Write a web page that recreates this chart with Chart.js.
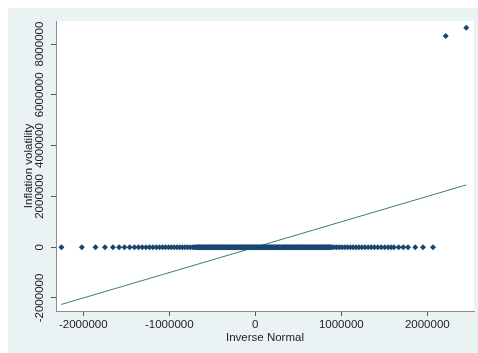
<!DOCTYPE html>
<html>
<head>
<meta charset="utf-8">
<script src="https://cdn.jsdelivr.net/npm/chart.js@4/dist/chart.umd.min.js"></script>
<style>
  body { margin: 0; background: #fff; }
  canvas { display: block; }
</style>
</head>
<body>
<canvas id="qnorm" width="478" height="353"></canvas>
<script>
// inverse normal quantiles (x) of the observations whose volatility is 0
var flatX = [
	-2254000, -2017000, -1858000, -1748000, -1655000, -1583000, -1521000, -1460000,
	-1405000, -1358000, -1314000, -1271000, -1230000, -1190000, -1151000, -1114000,
	-1078000, -1043000, -1009000, -976000, -943000, -910000, -879000, -848000,
	-817000, -787000, -757000, -728000, -705000,
	-690000, -680000, -670000, -660000, -650000, -640000, -630000, -620000, -610000, -600000,
	-590000, -580000, -570000, -560000, -550000, -540000, -530000, -520000, -510000, -500000,
	-490000, -480000, -470000, -460000, -450000, -440000, -430000, -420000, -410000, -400000,
	-390000, -380000, -370000, -360000, -350000, -340000, -330000, -320000, -310000, -300000,
	-290000, -280000, -270000, -260000, -250000, -240000, -230000, -220000, -210000, -200000,
	-190000, -180000, -170000, -160000, -150000, -140000, -130000, -120000, -110000, -100000,
	-90000, -80000, -70000, -60000, -50000, -40000, -30000, -20000, -10000, 0,
	10000, 20000, 30000, 40000, 50000, 60000, 70000, 80000, 90000, 100000,
	110000, 120000, 130000, 140000, 150000, 160000, 170000, 180000, 190000, 200000,
	210000, 220000, 230000, 240000, 250000, 260000, 270000, 280000, 290000, 300000,
	310000, 320000, 330000, 340000, 350000, 360000, 370000, 380000, 390000, 400000,
	410000, 420000, 430000, 440000, 450000, 460000, 470000, 480000, 490000, 500000,
	510000, 520000, 530000, 540000, 550000, 560000, 570000, 580000, 590000, 600000,
	610000, 620000, 630000, 640000, 650000, 660000, 670000, 680000, 690000, 700000,
	710000, 720000, 730000, 740000, 750000, 760000, 770000, 780000, 790000, 800000,
	810000, 820000, 830000, 840000, 850000, 860000, 870000, 880000, 895000,
	921000, 950000, 980000, 1010000, 1041000, 1073000, 1106000, 1138000, 1172000,
	1206000, 1241000, 1276000, 1312000, 1349000, 1386000, 1424000, 1464000, 1505000,
	1545000, 1581000, 1613000, 1667000, 1721000, 1776000, 1860000, 1950000, 2066000
];
var flatY = 0;
// the two largest observations
var topX = [2214000, 2453000];
var topY = [8320000, 8640000];

// reference line y = x
var refX = [-2254000, 2453000];
var refY = [-2254000, 2453000];

var xTicks = [-2000000, -1000000, 0, 1000000, 2000000];
var yTicks = [-2000000, 0, 2000000, 4000000, 6000000, 8000000];

var $points = [];
for (var i = 0; i < flatX.length; i++) {
	$points.push({x: flatX[i], y: flatY});
}
for (var k = 0; k < topX.length; k++) {
	$points.push({x: topX[k], y: topY[k]});
}
var $line = [];
for (var j = 0; j < refX.length; j++) {
	$line.push({x: refX[j], y: refY[j]});
}

var $font = '"Liberation Sans", Arial, sans-serif';

var bgPlugin = {
	id: 'bg',
	beforeDraw: function(chart) {
		var ctx = chart.ctx, a = chart.chartArea;
		ctx.save();
		ctx.fillStyle = '#ffffff';
		ctx.fillRect(0, 0, chart.width, chart.height);
		ctx.fillStyle = '#EAF2F3';
		ctx.fillRect(8, 8, chart.width - 8, chart.height - 8);
		ctx.fillStyle = '#ffffff';
		ctx.fillRect(a.left, a.top, a.right - a.left, a.bottom - a.top);
		ctx.restore();
	},
	afterDraw: function(chart) {
		// rotated y tick labels, as Stata draws them
		var ctx = chart.ctx, s = chart.scales.y;
		ctx.save();
		ctx.fillStyle = '#222';
		ctx.font = '11.5px ' + $font;
		ctx.textAlign = 'center';
		ctx.textBaseline = 'middle';
		s.ticks.forEach(function(t) {
			var y = s.getPixelForValue(t.value);
			ctx.save();
			ctx.translate(40, y);
			ctx.rotate(-Math.PI / 2);
			ctx.fillText(String(t.value), 0, 0);
			ctx.restore();
		});
		ctx.restore();
	}
};

new Chart(document.getElementById('qnorm'), {
	type: 'scatter',
	data: {
		datasets: [{
			data: $points,
			pointStyle: 'rectRot',
			pointRadius: 3,
			borderWidth: 0,
			backgroundColor: '#1A476F',
			borderColor: '#1A476F'
		}, {
			type: 'line',
			data: $line,
			borderColor: '#3C7D6E',
			borderWidth: 1,
			pointRadius: 0,
			fill: false
		}]
	},
	options: {
		responsive: false,
		animation: false,
		devicePixelRatio: 1,
		layout: { padding: { top: 21, right: 3, left: 0, bottom: 0 } },
		plugins: { legend: { display: false }, tooltip: { enabled: false } },
		scales: {
			x: {
				type: 'linear',
				min: -2317000,
				max: 2543000,
				afterBuildTicks: function(s) { s.ticks = xTicks.map(function(v) { return {value: v}; }); },
				afterFit: function(s) { s.height = 42; },
				grid: { drawOnChartArea: false, tickLength: 5, color: '#555' },
				border: { color: '#8C8C8C', width: 1 },
				ticks: {
					color: '#222',
					padding: 2,
					maxRotation: 0,
					font: { family: $font, size: 11.5 },
					callback: function(v) { return String(v); }
				},
				title: {
					display: true,
					text: 'Inverse Normal',
					color: '#222',
					font: { family: $font, size: 11.5 },
					padding: { top: 0, bottom: 8 }
				}
			},
			y: {
				type: 'linear',
				min: -2513000,
				max: 8907000,
				afterBuildTicks: function(s) { s.ticks = yTicks.map(function(v) { return {value: v}; }); },
				afterFit: function(s) { s.width = 56; },
				grid: { drawOnChartArea: false, tickLength: 5, color: '#555' },
				border: { color: '#8C8C8C', width: 1 },
				ticks: { display: false },
				title: {
					display: true,
					text: 'Inflation volatility',
					color: '#222',
					font: { family: $font, size: 11.5 },
					padding: { top: 22, bottom: 0 }
				}
			}
		}
	},
	plugins: [bgPlugin]
});
</script>
</body>
</html>
